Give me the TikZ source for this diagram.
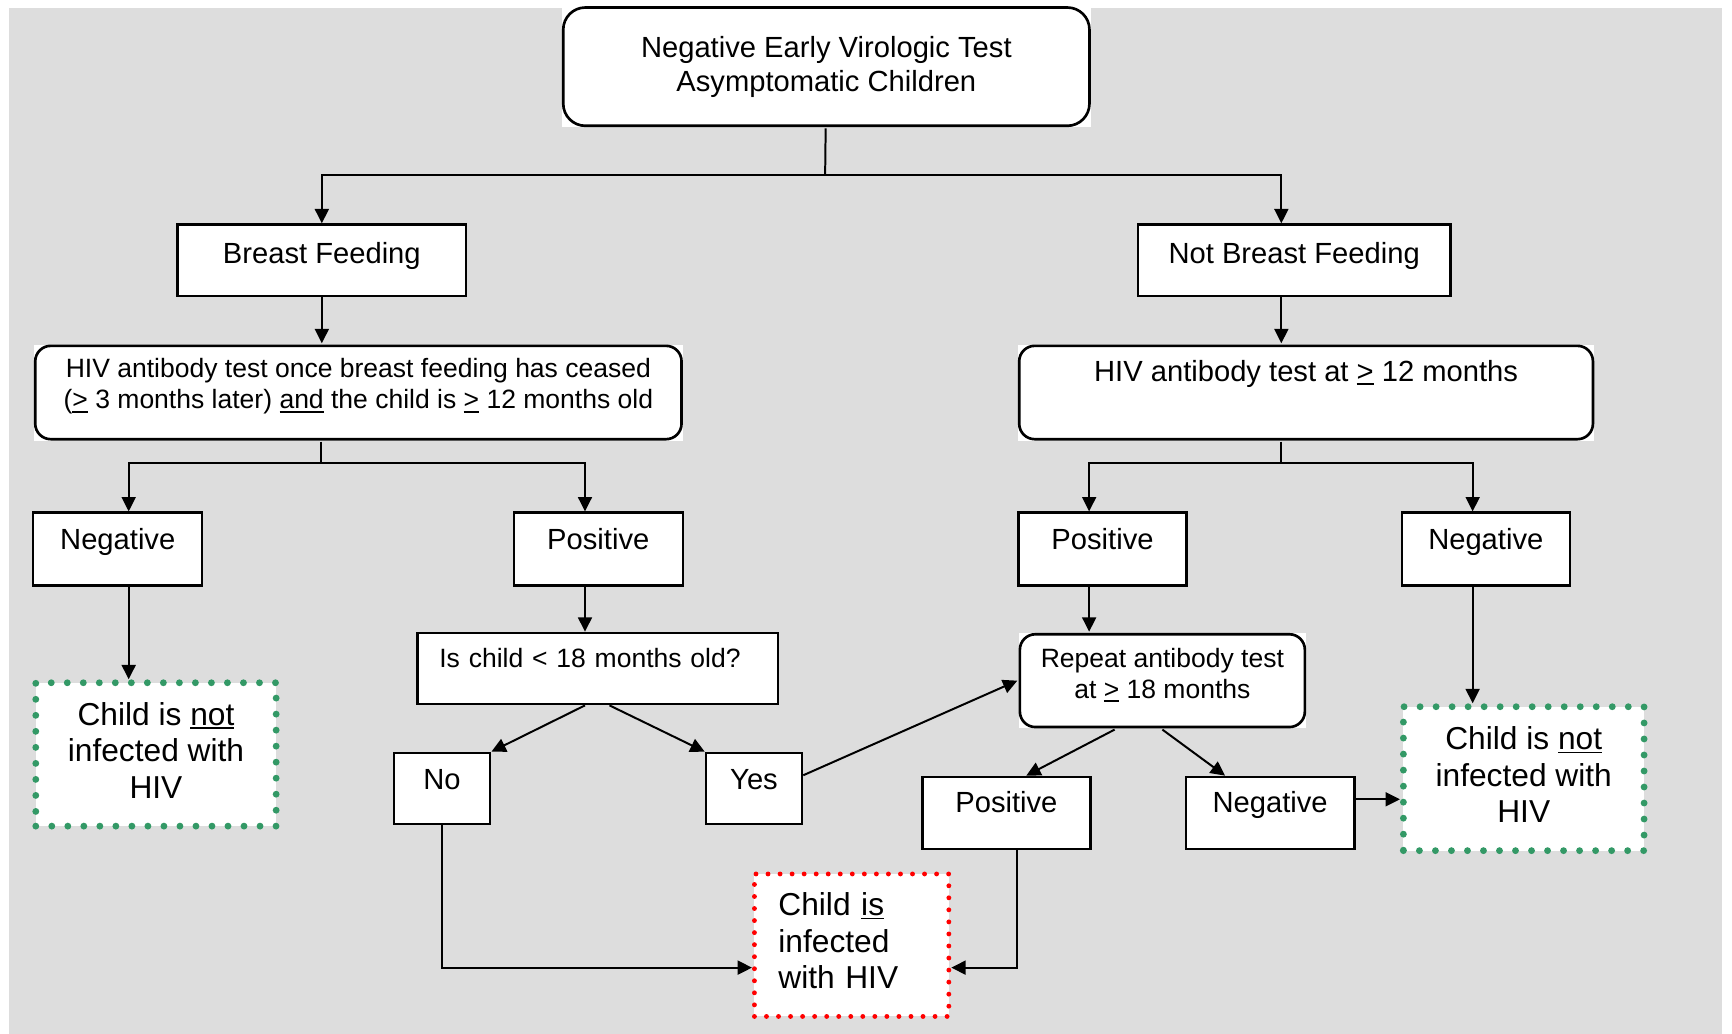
\documentclass[tikz,border=0pt]{standalone}
\usepackage{fontspec}
\setmainfont{Liberation Sans}
\usetikzlibrary{arrows.meta}
\definecolor{bggrey}{RGB}{221,221,221}
\definecolor{seagreen}{RGB}{51,153,102}
\definecolor{dotred}{RGB}{255,0,0}
\newcommand{\txtmid}{\fontsize{13.2pt}{15.2pt}\selectfont}
\newcommand{\txtsmall}{\fontsize{12pt}{14pt}\selectfont}
\newcommand{\txtlarge}{\fontsize{14.35pt}{16.5pt}\selectfont}
\newsavebox{\undlbox}
\newcommand{\undl}[1]{\sbox{\undlbox}{#1}\rlap{\rule[-1.7pt]{\wd\undlbox}{0.8pt}}\usebox{\undlbox}}

\begin{document}
\begin{tikzpicture}[
    x = 0.5pt,
    y = -0.5pt,
    >={Triangle[length=6.5pt, width=6.3pt]},
    box/.style = {rectangle, draw, fill=white, line width=1.1pt, anchor=north west,
              inner xsep=0pt, inner ysep=0pt, align=center, font=\txtmid},
    roundbox/.style = {box, draw=none, path picture={
              \draw[line width=1.2pt, rounded corners=#1]
              ([shift={(0.6pt,0.6pt)}]path picture bounding box.south west) rectangle
              ([shift={(-0.6pt,-0.6pt)}]path picture bounding box.north east);}},
    roundbox/.default=7pt,
    greenbox/.style = {box, draw=seagreen, line width=3.1pt, line cap=round,
              dash pattern=on 0pt off 7.25pt, font=\txtlarge},
    redbox/.style = {box, draw=dotred, line width=2.2pt, line cap=round,
              dash pattern=on 0pt off 5.45pt, font=\txtlarge, align=left},
    link/.style = {line width=0.9pt},
    ]

\useasboundingbox (0,0) rectangle (1568,936);
\fill [bggrey] (7.9,7.2) rectangle (1559,936);

\node[roundbox=10pt, minimum width=239.4pt, text height=38.45pt, text depth=16.3pt] (test_top) at (507.6,4.5) {Negative Early Virologic Test\\Asymptomatic Children};
\node[box, minimum width=130.75pt, text height=17.4pt, text depth=15pt] (bf) at (159.5,202.2) {Breast Feeding};
\node[box, minimum width=141.55pt, text height=17.4pt, text depth=15pt] (nbf) at (1029,202.2) {Not Breast Feeding};
\node[roundbox, font=\txtsmall, minimum width=293.75pt, text height=29.1pt, text depth=14.35pt] (bf_test) at (29.6,310.8) {HIV antibody test once breast feeding has ceased\\(\undl{>} 3 months later) \undl{and} the child is \undl{>} 12 months old};
\node[roundbox, minimum width=260.9pt, text height=16.6pt, text depth=26.85pt] (nbf_test) at (920.4,310.8) {HIV antibody test at \undl{>} 12 months};

\node[box, minimum width=76.5pt, text height=16.6pt, text depth=16.3pt] (neg_1) at (29,463) {Negative};
\node[box, minimum width=76.5pt, text height=16.6pt, text depth=16.3pt] (pos_1) at (464,463) {Positive};
\node[box, minimum width=76pt, text height=16.6pt, text depth=16.3pt] (pos_2) at (921,463) {Positive};
\node[box, minimum width=76pt, text height=16.6pt, text depth=16.3pt] (neg_2) at (1268,463) {Negative};

\node[box, font=\txtsmall, align=left, text width=143.4pt, inner xsep=9.8pt, text height=15.8pt, text depth=16.45pt] (is_child) at (377,571.9) {Is child < 18 months old?};
\node[box, minimum width=43.6pt, text height=16.5pt, text depth=15.75pt] (no) at (355.5,680.5) {No};
\node[box, minimum width=43.5pt, text height=16.5pt, text depth=15.75pt] (yes) at (638,680.5) {Yes};
\node[roundbox, font=\txtsmall, minimum width=130.2pt, text height=29.55pt, text depth=13.65pt] (rep_test) at (921,571.9) {Repeat antibody test\\at \undl{>} 18 months};
\node[box, minimum width=76pt, text height=16.3pt, text depth=16.3pt] (pos_3) at (834,702.2) {Positive};
\node[box, minimum width=76.25pt, text height=16.3pt, text depth=16.3pt] (neg_3) at (1072.5,702.2) {Negative};

\node[greenbox, minimum width=108.8pt, text height=52.2pt, text depth=12.7pt] (not_inf_1) at (29.3,615) {Child is \undl{not}\\infected with\\HIV};
\node[greenbox, minimum width=108.95pt, text height=52.4pt, text depth=12.75pt] (not_inf_2) at (1267.4,636.7) {Child is \undl{not}\\infected with\\HIV};
\node[redbox, text width=66.3pt, inner xsep=10.85pt, text height=18.85pt, text depth=45.65pt] (infected) at (680.8,789) {Child \undl{is}\\infected\\with HIV};

\coordinate (split_top) at (747,158.4);
\coordinate (split_l) at (290.4,419);
\coordinate (split_r) at (1160,419);
\coordinate (col_a) at (116.5,0);
\coordinate (col_b) at (529.6,0);
\coordinate (col_c) at (986,0);
\coordinate (col_d) at (1333.2,0);
\coordinate (col_e) at (920.4,0);
\coordinate (row_n) at (0,723.6);
\coordinate (row_i) at (0,876);

\draw [link] (test_top) -- (split_top);
\draw [->, link] (split_top) -| (bf);
\draw [->, link] (split_top) -| (nbf.north -| split_r);
\draw [->, link] (bf) -- (bf.south |- bf_test.north);
\draw [->, link] (nbf.south -| split_r) -- (nbf_test.north -| split_r);
\draw [link] (bf_test.south -| split_l) -- (split_l);
\draw [->, link] (split_l) -| (neg_1.north -| col_a);
\draw [->, link] (split_l) -| (pos_1.north -| col_b);
\draw [link] (nbf_test.south -| split_r) -- (split_r);
\draw [->, link] (split_r) -| (pos_2.north -| col_c);
\draw [->, link] (split_r) -| (neg_2.north -| col_d);
\draw [->, link] (neg_1.south -| col_a) -- (not_inf_1.north -| col_a);
\draw [->, link] (pos_1.south -| col_b) -- (is_child.north -| col_b);
\draw [->, link] (pos_2.south -| col_c) -- (rep_test.north -| col_c);
\draw [->, link] (neg_2.south -| col_d) -- (not_inf_2.north -| col_d);
\draw [->, link] (is_child.south -| col_b) -- (no.north east);
\draw [->, link] ([xshift=5.35pt]is_child.south) -- (yes.north west);
\draw [->, link] ([yshift=6pt]yes.east) -- (rep_test.west);
\draw [->, link] ([xshift=-21.6pt]rep_test.south) -- ([xshift=9pt]pos_3.north);
\draw [->, link] (rep_test.south) -- ([xshift=-20.4pt]neg_3.north);
\draw [->, link] (neg_3.east |- row_n) -- (not_inf_2.west |- row_n);
\draw [->, link] (no) |- (infected.west |- row_i);
\draw [->, link] (pos_3.south -| col_e) |- (infected.east |- row_i);

\end{tikzpicture}
\end{document}
